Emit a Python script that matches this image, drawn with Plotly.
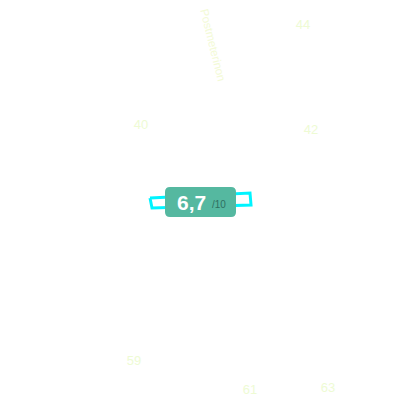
import plotly.graph_objects as go

# Подписи вокруг шкалы
labels = ["40", "42", "44", "59", "61", "63"]
label_x = [141, 311, 303, 134, 250, 328]
label_y = [126, 131, 26, 362, 391, 389]

title_text = "Postmeterinon"
score_text = "6,7"
score_max = "/10"

# Контур шкалы за плашкой
gauge_x = [150, 250, 251, 152, 150]
gauge_y = [198, 193, 205, 208, 198]

fig = go.Figure()

fig.add_trace(
    go.Scatter(
        x=gauge_x,
        y=gauge_y,
        mode="lines",
        line=dict(color="#00f4ff", width=3),
        hoverinfo="skip",
    )
)

fig.add_trace(
    go.Scatter(
        x=label_x,
        y=label_y,
        mode="text",
        text=labels,
        textfont=dict(family="Liberation Sans, Arial, sans-serif", size=13, color="#eefbd4"),
        hoverinfo="skip",
    )
)

# Плашка с оценкой
fig.add_shape(
    type="path",
    path="M 170 187 L 231 187 Q 236 187 236 192 L 236 212 Q 236 217 231 217 "
    "L 170 217 Q 165 217 165 212 L 165 192 Q 165 187 170 187 Z",
    fillcolor="#55b8a0",
    line=dict(width=0),
    layer="above",
)

fig.add_annotation(
    x=191.5,
    y=202,
    text=f"<b>{score_text}</b>",
    showarrow=False,
    font=dict(family="Liberation Sans, Arial, sans-serif", size=21, color="white"),
)
fig.add_annotation(
    x=218.5,
    y=204,
    text=score_max,
    showarrow=False,
    font=dict(family="Liberation Sans, Arial, sans-serif", size=10, color="#2f6f60"),
)
fig.add_annotation(
    x=213,
    y=45,
    text=title_text,
    textangle=76,
    showarrow=False,
    font=dict(family="Liberation Sans, Arial, sans-serif", size=11.5, color="#f3fad6"),
)

fig.update_layout(
    width=400,
    height=400,
    margin=dict(l=0, r=0, t=0, b=0),
    paper_bgcolor="white",
    plot_bgcolor="white",
    showlegend=False,
)
fig.update_xaxes(range=[0, 400], visible=False, fixedrange=True)
fig.update_yaxes(range=[400, 0], visible=False, fixedrange=True)

# Убираем отступ страницы, иначе график съезжает на 8 пикселей
fig.write_html(
    "out.html",
    config=dict(displayModeBar=False),
    post_script="document.body.style.margin = '0';",
)
